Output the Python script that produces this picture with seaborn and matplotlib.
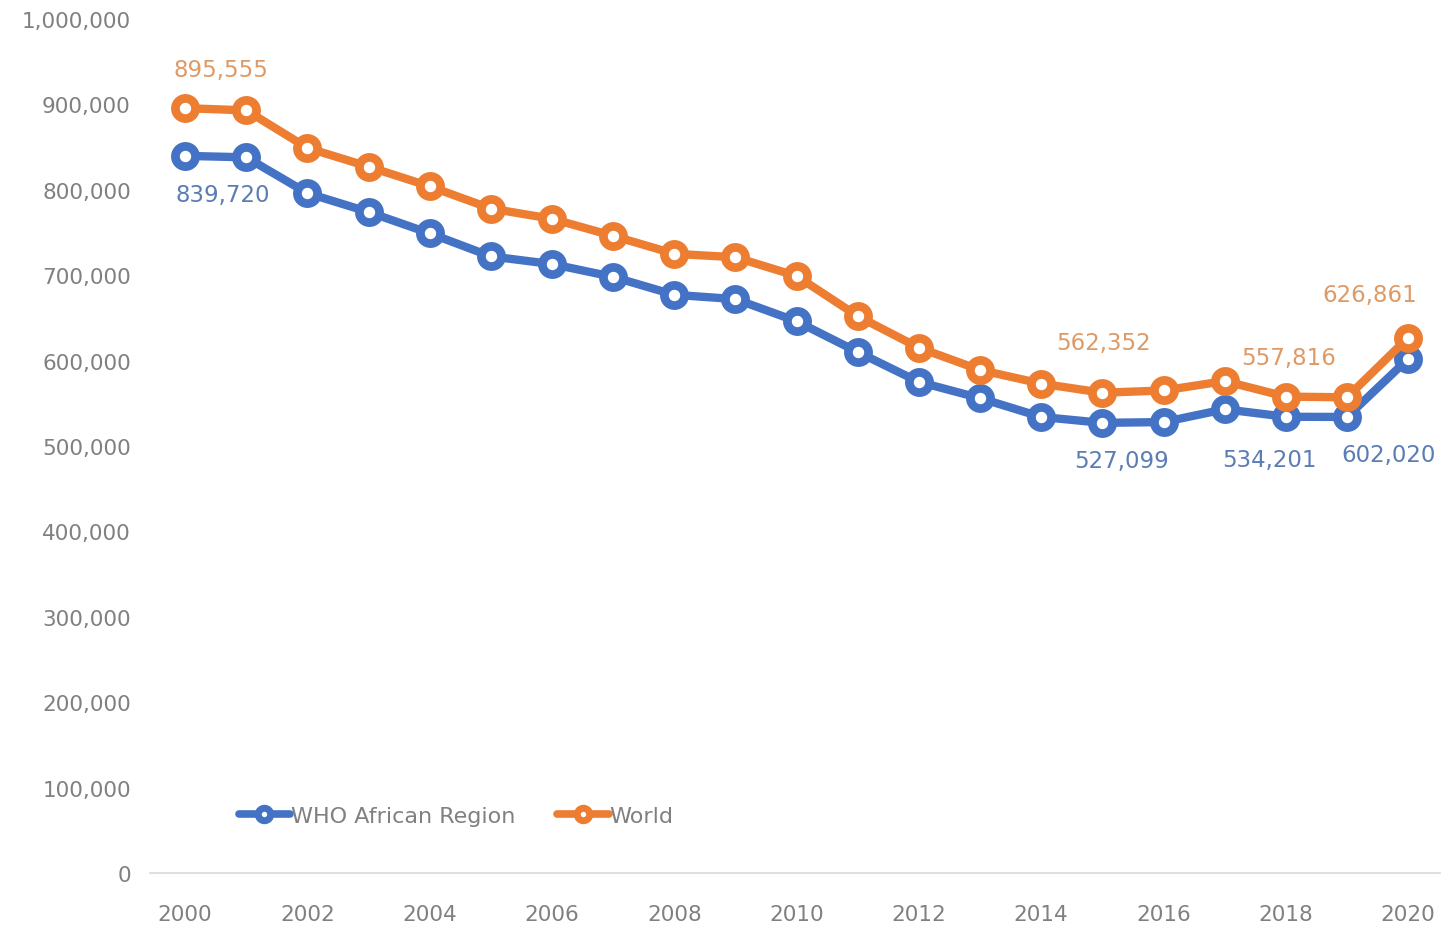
import matplotlib
matplotlib.use("Agg")
import matplotlib.pyplot as plt
import seaborn as sns
import pandas as pd
from matplotlib.lines import Line2D

years = list(range(2000, 2021))
africa = [839720, 838000, 796000, 774000, 749000, 722000, 713000, 698000, 677000, 672000,
          646000, 610000, 575000, 556000, 534000, 527099, 528000, 543000, 534201, 534000, 602020]
world = [895555, 893000, 849000, 827000, 804000, 778000, 766000, 746000, 725000, 721000,
         699000, 652000, 615000, 589000, 573000, 562352, 565000, 576000, 557816, 557000, 626861]
series_names = ["WHO African Region", "World"]
colors = ["#4472C4", "#ED7D31"]
label_colors = ["#5B7DB5", "#DE9A66"]
yticks = list(range(0, 1000001, 100000))
xticks = list(range(2000, 2021, 2))

df = pd.DataFrame({
    "year": years * 2,
    "cases": africa + world,
    "region": [series_names[0]] * len(years) + [series_names[1]] * len(years),
})

sns.set_theme(style="white")
plt.rcParams["font.family"] = ["DejaVu Sans"]

fig = plt.figure(figsize=(14.45, 9.29), dpi=100)
ax = fig.add_axes([0.104, 0.0592, 0.8925, 0.9193])

sns.lineplot(data=df, x="year", y="cases", hue="region", palette=colors,
             marker="o", markersize=14.5, linewidth=6.0, ax=ax, legend=False)
for ln, c in zip(ax.lines, colors):
    ln.set_markeredgecolor(c)
    ln.set_markerfacecolor("white")
    ln.set_markeredgewidth(6.3)
    ln.set_solid_capstyle("round")

ax.set_xlim(1999.43, 2020.52)
ax.set_ylim(0, 1000000)
ax.set_xticks(xticks)
ax.set_yticks(yticks)
ax.set_yticklabels([f"{v:,}" for v in yticks])
ax.tick_params(axis="both", length=0, labelsize=15.5, labelcolor="#808080")
ax.tick_params(axis="y", pad=14)
ax.tick_params(axis="x", pad=22)
ax.set_xlabel("")
ax.set_ylabel("")
for s in ["top", "right", "left"]:
    ax.spines[s].set_visible(False)
ax.spines["bottom"].set_color("#D9D9D9")
ax.spines["bottom"].set_linewidth(1.2)

fs = 16.5
def lab(x, y, text, color, dx, dy):
    ax.annotate(text, (x, y), xytext=(dx, dy), textcoords="offset points",
                ha="center", va="center", color=color, fontsize=fs)

ia = {y: v for y, v in zip(years, africa)}
iw = {y: v for y, v in zip(years, world)}
lab(2000, iw[2000], f"{iw[2000]:,}", label_colors[1], 26, 28)
lab(2000, ia[2000], f"{ia[2000]:,}", label_colors[0], 27, -28)
lab(2015, iw[2015], f"{iw[2015]:,}", label_colors[1], 1, 36)
lab(2015, ia[2015], f"{ia[2015]:,}", label_colors[0], 14, -27)
lab(2018, iw[2018], f"{iw[2018]:,}", label_colors[1], 2, 28)
lab(2018, ia[2018], f"{ia[2018]:,}", label_colors[0], -12, -31)
lab(2020, iw[2020], f"{iw[2020]:,}", label_colors[1], -28, 31)
lab(2020, ia[2020], f"{ia[2020]:,}", label_colors[0], -14, -69)

handles = [Line2D([], [], color=c, linewidth=5.5, marker="o", markersize=9,
                  markerfacecolor="white", markeredgecolor=c, markeredgewidth=5)
           for c in colors]
leg = ax.legend(handles, series_names, loc="lower left", bbox_to_anchor=(0.053, 0.032),
                ncol=2, frameon=False, fontsize=16, handlelength=2.3,
                handletextpad=0.05, columnspacing=1.9)
for t in leg.get_texts():
    t.set_color("#808080")

fig.savefig("out.png", dpi=100, facecolor="white")
